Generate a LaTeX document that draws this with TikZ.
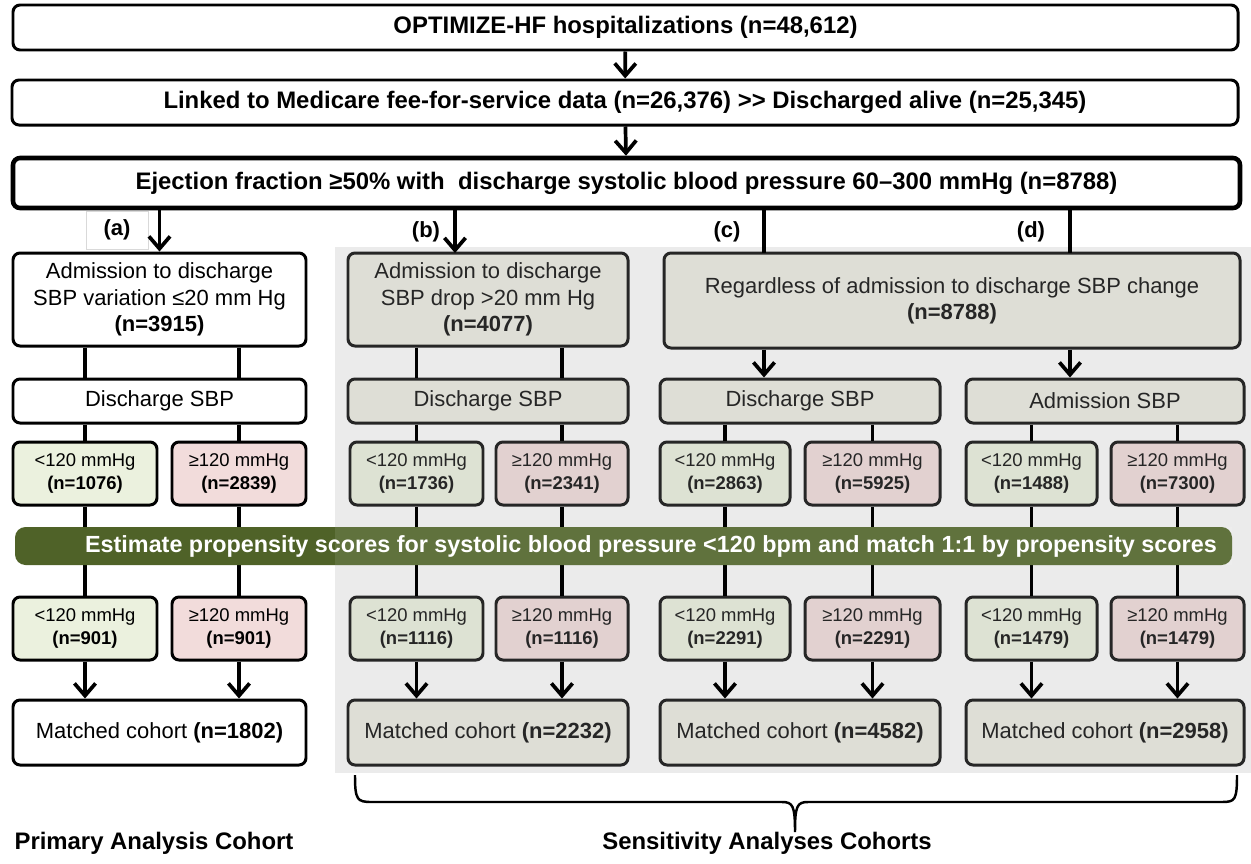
\documentclass[tikz,border=0pt]{standalone}
\usepackage{fontspec}
\setmainfont{Liberation Sans}
\usetikzlibrary{arrows.meta}
\newcommand*{\pxu   }{0.02cm}
\newcommand*{\bigtxt}{\fontsize{13.6}{16}\selectfont}
\newcommand*{\midtxt}{\fontsize{12.5}{15}\selectfont}
\newcommand*{\smltxt}{\fontsize{10.5}{13}\selectfont}
\definecolor{bandgreen}{HTML}{4F6228}
\definecolor{sensbg}{HTML}{EBEBEB}
\definecolor{sensfill}{HTML}{DEDED6}
\definecolor{lowA}{HTML}{EBF1DE}
\definecolor{highA}{HTML}{F2DCDB}
\definecolor{lowB}{HTML}{DDE2D3}
\definecolor{highB}{HTML}{E2D1D0}

\begin{document}
\begin{tikzpicture}[x=\pxu, y=-\pxu,
    frame/.style    = {draw=black, line width=1.7pt, rounded corners=4pt, inner sep=0pt, align=center},
    headbox/.style  = {frame, fill=white, font=\bfseries\bigtxt},
    primbox/.style  = {frame, fill=white, font=\midtxt},
    sensbox/.style  = {frame, draw=black!85, fill=sensfill, text=black!85, font=\midtxt},
    lowbox/.style   = {frame, fill=lowA, font=\smltxt},
    highbox/.style  = {frame, fill=highA, font=\smltxt},
    slowbox/.style  = {frame, draw=black!85, fill=lowB, text=black!85, font=\smltxt},
    shighbox/.style = {frame, draw=black!85, fill=highB, text=black!85, font=\smltxt},
    tag/.style      = {font=\bfseries\midtxt},
    link/.style     = {line width=2.1pt},
    arr/.style      = {link, -{Straight Barb[length=7pt, width=12pt, line width=2.1pt]}}]
    \useasboundingbox (0,0) rectangle (1251,863);
    \fill [sensbg] (335,247) rectangle (1251,773);

    % top of the chart
    \node [headbox, minimum width=1225*\pxu, minimum height=45*\pxu] (hosp) at (625.5,27.5) {OPTIMIZE-HF hospitalizations (n=48,612)};
    \node [headbox, minimum width=1226*\pxu, minimum height=45*\pxu] (linked) at (625,102.5) {Linked to Medicare fee-for-service data (n=26,376) {>}{>} Discharged alive (n=25,345)};
    \node [headbox, line width=2.6pt, minimum width=1227*\pxu, minimum height=50*\pxu] (ejec) at (626.5,183) {Ejection fraction ≥50\% with\ \ discharge systolic blood pressure 60–300 mmHg (n=8788)};
    \draw [arr] (hosp) -- (linked);
    \draw [arr] (linked) -- (ejec);

    % the four cohorts
    \node [primbox, minimum width=293*\pxu, minimum height=93*\pxu] (varA) at (159.5,299.5) {Admission to discharge\\SBP variation ≤20 mm Hg\\\textbf{(n=3915)}};
    \node [sensbox, minimum width=280*\pxu, minimum height=93*\pxu] (dropB) at (488,299.5) {Admission to discharge\\SBP drop {>}20 mm Hg\\\textbf{(n=4077)}};
    \node [sensbox, minimum width=576*\pxu, minimum height=95*\pxu] (anyCD) at (952,300.5) {Regardless of admission to discharge SBP change\\\textbf{(n=8788)}};
    \node [draw=black!15, line width=0.4pt, tag, minimum width=62*\pxu, minimum height=38*\pxu] (tagA) at (117,230) {(a)};
    \node [tag] (tagB) at (426,232) {(b)};
    \node [tag] (tagC) at (727,232) {(c)};
    \node [tag] (tagD) at (1031,232) {(d)};
    \coordinate (inB) at (455,253);
    \coordinate (inC) at (764,253);
    \coordinate (inD) at (1070,253);
    \draw [arr] (ejec.south -| varA.north) -- (varA.north);
    \draw [arr] (ejec.south -| inB) -- (inB);
    \draw [link] (ejec.south -| inC) -- (inC);
    \draw [link] (ejec.south -| inD) -- (inD);

    % SBP split
    \node [primbox, minimum width=293*\pxu, minimum height=44*\pxu] (disA) at (159.5,401) {Discharge SBP};
    \node [sensbox, minimum width=280*\pxu, minimum height=44*\pxu] (disB) at (488,401) {Discharge SBP};
    \node [sensbox, minimum width=280*\pxu, minimum height=44*\pxu] (disC) at (800,401) {Discharge SBP};
    \node [sensbox, minimum width=278*\pxu, minimum height=44*\pxu] (admD) at (1105,401) {Admission SBP};

    \node [lowbox,   minimum width=144*\pxu, minimum height=63*\pxu] (loA) at (85,473.5)    {<120 mmHg\\\textbf{(n=1076)}};
    \node [highbox,  minimum width=134*\pxu, minimum height=63*\pxu] (hiA) at (239,473.5)   {≥120 mmHg\\\textbf{(n=2839)}};
    \node [slowbox,  minimum width=133*\pxu, minimum height=63*\pxu] (loB) at (416.5,473.5) {<120 mmHg\\\textbf{(n=1736)}};
    \node [shighbox, minimum width=132*\pxu, minimum height=63*\pxu] (hiB) at (562,473.5)   {≥120 mmHg\\\textbf{(n=2341)}};
    \node [slowbox,  minimum width=130*\pxu, minimum height=63*\pxu] (loC) at (725,473.5)   {<120 mmHg\\\textbf{(n=2863)}};
    \node [shighbox, minimum width=135*\pxu, minimum height=63*\pxu] (hiC) at (872.5,473.5) {≥120 mmHg\\\textbf{(n=5925)}};
    \node [slowbox,  minimum width=131*\pxu, minimum height=63*\pxu] (loD) at (1031.5,473.5){<120 mmHg\\\textbf{(n=1488)}};
    \node [shighbox, minimum width=133*\pxu, minimum height=63*\pxu] (hiD) at (1177.5,473.5){≥120 mmHg\\\textbf{(n=7300)}};

    \draw [link] (varA.south -| loA) -- (disA.north -| loA);
    \draw [link] (varA.south -| hiA) -- (disA.north -| hiA);
    \draw [link] (dropB.south -| loB) -- (disB.north -| loB);
    \draw [link] (dropB.south -| hiB) -- (disB.north -| hiB);
    \draw [arr] (anyCD.south -| inC) -- (disC.north -| inC);
    \draw [arr] (anyCD.south -| inD) -- (admD.north -| inD);
    \draw [link] (disA.south -| loA) -- (loA);
    \draw [link] (disA.south -| hiA) -- (hiA);
    \draw [link] (disB.south -| loB) -- (loB);
    \draw [link] (disB.south -| hiB) -- (hiB);
    \draw [link] (disC.south -| loC) -- (loC);
    \draw [link] (disC.south -| hiC) -- (hiC);
    \draw [link] (admD.south -| loD) -- (loD);
    \draw [link] (admD.south -| hiD) -- (hiD);

    % after matching
    \node [lowbox,   minimum width=144*\pxu, minimum height=63*\pxu] (loA2) at (85,628.5)    {<120 mmHg\\\textbf{(n=901)}};
    \node [highbox,  minimum width=134*\pxu, minimum height=63*\pxu] (hiA2) at (239,628.5)   {≥120 mmHg\\\textbf{(n=901)}};
    \node [slowbox,  minimum width=133*\pxu, minimum height=63*\pxu] (loB2) at (416.5,628.5) {<120 mmHg\\\textbf{(n=1116)}};
    \node [shighbox, minimum width=132*\pxu, minimum height=63*\pxu] (hiB2) at (562,628.5)   {≥120 mmHg\\\textbf{(n=1116)}};
    \node [slowbox,  minimum width=130*\pxu, minimum height=63*\pxu] (loC2) at (725,628.5)   {<120 mmHg\\\textbf{(n=2291)}};
    \node [shighbox, minimum width=135*\pxu, minimum height=63*\pxu] (hiC2) at (872.5,628.5) {≥120 mmHg\\\textbf{(n=2291)}};
    \node [slowbox,  minimum width=131*\pxu, minimum height=63*\pxu] (loD2) at (1031.5,628.5){<120 mmHg\\\textbf{(n=1479)}};
    \node [shighbox, minimum width=133*\pxu, minimum height=63*\pxu] (hiD2) at (1177.5,628.5){≥120 mmHg\\\textbf{(n=1479)}};

    \draw [link] (loA) -- (loA2);
    \draw [link] (hiA) -- (hiA2);
    \draw [link] (loB) -- (loB2);
    \draw [link] (hiB) -- (hiB2);
    \draw [link] (loC) -- (loC2);
    \draw [link] (hiC) -- (hiC2);
    \draw [link] (loD) -- (loD2);
    \draw [link] (hiD) -- (hiD2);

    \node [primbox, minimum width=293*\pxu, minimum height=65*\pxu] (matA) at (159.5,732.5) {Matched cohort \textbf{(n=1802)}};
    \node [sensbox, minimum width=280*\pxu, minimum height=65*\pxu] (matB) at (488,732.5)   {Matched cohort \textbf{(n=2232)}};
    \node [sensbox, minimum width=280*\pxu, minimum height=65*\pxu] (matC) at (800,732.5)   {Matched cohort \textbf{(n=4582)}};
    \node [sensbox, minimum width=278*\pxu, minimum height=65*\pxu] (matD) at (1105,732.5)  {Matched cohort \textbf{(n=2958)}};

    \draw [arr] (loA2) -- (matA.north -| loA2);
    \draw [arr] (hiA2) -- (matA.north -| hiA2);
    \draw [arr] (loB2) -- (matB.north -| loB2);
    \draw [arr] (hiB2) -- (matB.north -| hiB2);
    \draw [arr] (loC2) -- (matC.north -| loC2);
    \draw [arr] (hiC2) -- (matC.north -| hiC2);
    \draw [arr] (loD2) -- (matD.north -| loD2);
    \draw [arr] (hiD2) -- (matD.north -| hiD2);

    % propensity band, lighter over the grey part
    \node [fill=bandgreen, rounded corners=6pt, text=white, font=\bfseries\fontsize{13.3}{15}\selectfont, minimum width=1217*\pxu, minimum height=38*\pxu] (band) at (623.5,546) {\hspace*{1.1cm}Estimate propensity scores for systolic blood pressure <120 bpm and match 1:1 by propensity scores};
    \begin{scope}
        \clip (335,247) rectangle (1251,773);
        \fill [white, fill opacity=0.1] (band.north west) rectangle (band.south east);
    \end{scope}

    % brace and captions
    \draw [line width=1.4pt] (355,775) .. controls (355,800) and (357,802) .. (372,802) -- (782,802) .. controls (793,802) and (795,806) .. (795,832) .. controls (795,806) and (797,802) .. (808,802) -- (1222,802) .. controls (1235,802) and (1237,800) .. (1237,775);
    \node [font=\bfseries\bigtxt] (primcap) at (154,843) {Primary Analysis Cohort};
    \node [font=\bfseries\bigtxt] (senscap) at (767,843) {Sensitivity Analyses Cohorts};
\end{tikzpicture}
\end{document}
